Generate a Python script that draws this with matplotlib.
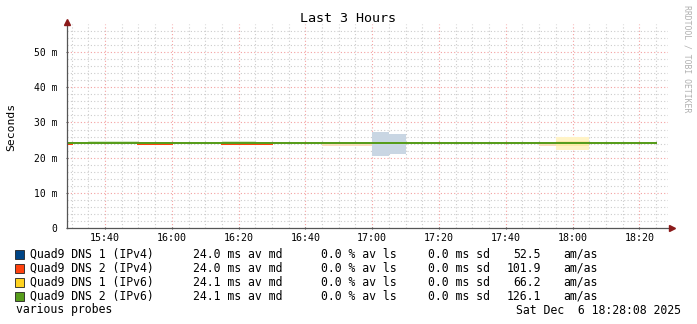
import matplotlib
matplotlib.use("Agg")
import matplotlib.pyplot as plt
import numpy as np

plt.rcParams['font.family'] = ['DejaVu Sans Mono', 'DejaVu Sans']

# ---------------- data ----------------
# time in minutes after 15:00
x_start, x_end = 28.6, 208.6
bin_edges = list(range(25, 210, 5))          # 15:25 ... 18:25
n_bins = len(bin_edges) - 1

targets = ["Quad9 DNS 1 (IPv4)", "Quad9 DNS 2 (IPv4)", "Quad9 DNS 1 (IPv6)", "Quad9 DNS 2 (IPv6)"]
colors = ["#004586", "#ff420e", "#ffd320", "#579d1c"]

median_blue = [24.1] * n_bins
median_red = [23.75, 24.1, 24.1, 24.1, 24.1, 23.75, 23.75, 24.1, 24.1, 24.1, 23.75, 23.75, 23.75] + [24.1] * (n_bins - 13)
median_yellow = [24.1] * n_bins
median_green = [24.1] * n_bins
medians = [median_blue, median_red, median_yellow, median_green]

# smoke bins: (bin start minute, low ms, high ms)
smoke_blue = [(120, 20.5, 27.3), (125, 21.0, 26.7)]
smoke_red = [(105, 23.3, 23.75), (110, 23.3, 23.75), (115, 23.3, 23.75), (170, 23.3, 23.75)]
smoke_yellow_outer = [(175, 22.2, 25.9), (180, 22.2, 25.9)]
smoke_yellow_inner = [(175, 23.3, 24.7), (180, 23.3, 24.7)]
smoke_green = [(35, 24.1, 24.6), (40, 24.1, 24.6), (45, 24.1, 24.6), (75, 24.1, 24.6), (80, 24.1, 24.6)]

tick_minutes = [40, 60, 80, 100, 120, 140, 160, 180, 200]
tick_labels = ["15:40", "16:00", "16:20", "16:40", "17:00", "17:20", "17:40", "18:00", "18:20"]
y_ticks = [0, 10, 20, 30, 40, 50]
y_labels = ["0", "10 m", "20 m", "30 m", "40 m", "50 m"]

legend_md = ["24.0 ms av md", "24.0 ms av md", "24.1 ms av md", "24.1 ms av md"]
legend_ls = ["0.0 % av ls"] * 4
legend_sd = ["0.0 ms sd"] * 4
legend_amas = ["52.5", "101.9", "66.2", "126.1"]

# ---------------- figure ----------------
W, H = 697, 324
fig = plt.figure(figsize=(W / 100, H / 100), dpi=100)
fig.patch.set_facecolor("white")

def fx(px):
    return px / W

def fy(py):
    return 1 - py / H

ax = fig.add_axes([fx(67), fy(228), fx(668) - fx(67), fy(24) - fy(228)])
ax.set_xlim(x_start, x_end)
ax.set_ylim(0, 58)
ax.set_facecolor("white")

# grid
for m in range(30, 210, 5):
    major = (m % 20 == 0)
    ax.axvline(m, color="#f4a0a0" if major else "#cccccc", lw=0.8,
               ls=(0, (1, 2)), zorder=0)
for v in range(2, 58, 2):
    major = (v % 10 == 0)
    ax.axhline(v, color="#f4a0a0" if major else "#cccccc", lw=0.8,
               ls=(0, (1, 2)), zorder=0)

# smoke
def draw_smoke(bins, color, z):
    for (b, lo, hi) in bins:
        ax.bar(b, hi - lo, bottom=lo, width=5, align="edge", color=color,
               linewidth=0, zorder=z)

draw_smoke(smoke_blue, "#c9d6e3", 1)
draw_smoke(smoke_red, "#f9dcbc", 1)
draw_smoke(smoke_yellow_outer, "#fff3c6", 1)
draw_smoke(smoke_yellow_inner, "#fde9a8", 1.1)
draw_smoke(smoke_green, "#d6e9c8", 1)

# median lines
for vals, c in zip(medians, colors):
    ax.step(bin_edges, vals + [vals[-1]], where="post", color=c, lw=1.44,
            antialiased=False, zorder=2)

# axes decorations
for s in ["top", "right"]:
    ax.spines[s].set_visible(False)
for s in ["left", "bottom"]:
    ax.spines[s].set_color("#555555")
    ax.spines[s].set_linewidth(0.9)
    ax.spines[s].set_zorder(3)
ax.spines["bottom"].set_bounds(x_start, x_end + 1.0)

ax.set_xticks(tick_minutes)
ax.set_xticklabels(tick_labels)
ax.set_yticks(y_ticks)
ax.set_yticklabels(y_labels)
ax.tick_params(axis="x", length=2, width=0.8, color="#555555", direction="inout",
               labelsize=7.2, pad=2.5, labelcolor="#000000")
ax.tick_params(axis="y", length=2, width=0.8, color="#555555", direction="inout",
               labelsize=7.0, pad=6, labelcolor="#000000")

# arrows
ax.plot([x_start], [58.5], marker="^", color="#8b1a1a", markersize=4, clip_on=False, zorder=5)
ax.plot([x_end + 1.3], [0], marker=">", color="#8b1a1a", markersize=4, clip_on=False, zorder=5)

# titles
fig.text(fx(348.5), fy(19), "Last 3 Hours", ha="center", va="center", fontsize=9.6)
fig.text(fx(11), fy(127), "Seconds", ha="center", va="center", rotation=90, fontsize=8.2)
fig.text(fx(687), fy(59), "RRDTOOL / TOBI OETIKER", ha="center", va="center",
         rotation=270, fontsize=5.9, color="#b0b0b0")

# legend
row_y = [254, 268, 282, 296]
fs = 8.3
for i in range(4):
    y = fy(row_y[i])
    fig.patches.append(plt.Rectangle((fx(15), fy(row_y[i] + 4.5)), fx(9), 9 / H,
                                     transform=fig.transFigure, facecolor=colors[i],
                                     edgecolor="#222222", linewidth=0.6))
    fig.text(fx(30), y, targets[i], ha="left", va="center", fontsize=fs)
    fig.text(fx(193), y, legend_md[i], ha="left", va="center", fontsize=fs)
    fig.text(fx(321), y, legend_ls[i], ha="left", va="center", fontsize=fs)
    fig.text(fx(428), y, legend_sd[i], ha="left", va="center", fontsize=fs)
    fig.text(fx(541), y, legend_amas[i], ha="right", va="center", fontsize=fs)
    fig.text(fx(563), y, "am/as", ha="left", va="center", fontsize=fs)

fig.text(fx(16), fy(310), "various probes", ha="left", va="center", fontsize=fs)
fig.text(fx(681), fy(310), "Sat Dec  6 18:28:08 2025", ha="right", va="center", fontsize=fs)

fig.savefig("out.png", dpi=100, facecolor="white")
